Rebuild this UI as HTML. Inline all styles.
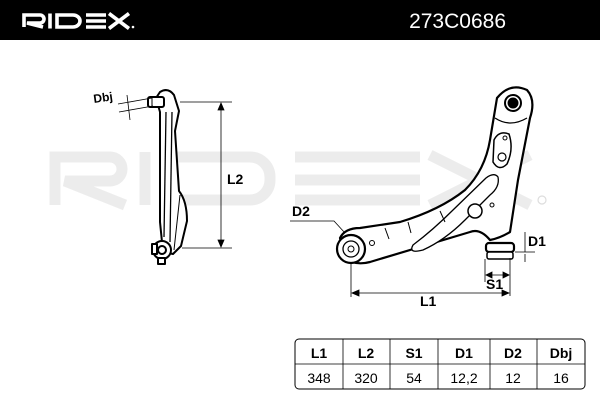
<!DOCTYPE html>
<html><head><meta charset="utf-8"><style>
body{margin:0;background:#fff;width:600px;height:400px;overflow:hidden;font-family:"Liberation Sans",sans-serif}
</style></head><body>
<svg width="600" height="400" viewBox="0 0 600 400" xmlns="http://www.w3.org/2000/svg" font-family="Liberation Sans, sans-serif">
<rect x="0" y="0" width="600" height="40" fill="#000"/>
<g fill="none" stroke="#fff" stroke-width="3.6">
<path d="M24 27V15h16a4 4 0 0 1 0 8H27l16 4"/>
<path d="M50 13.5v15"/>
<path d="M57 15h16a7 6 0 0 1 7 6v0a7 6 0 0 1-7 6H57z"/>
<path d="M106 15H86M106 21H86M106 27H86"/>
<path d="M109 13.5l20 15M129 13.5l-20 15"/>
</g>
<circle cx="133" cy="27" r="1.3" fill="#fff"/>
<text x="506" y="28" font-size="21" fill="#fff" text-anchor="end">273C0686</text>
<g fill="none" stroke="#ececec" stroke-width="11">
<path d="M55 205V157h55a12 12 0 0 1 0 24H65l60 24"/>
<path d="M145 152v53"/>
<path d="M165 157h85a20 20 0 0 1 20 20v3a20 20 0 0 1-20 20H165z"/>
<path d="M420 157H295M420 180H295M420 200H295"/>
<path d="M430 155l100 50M530 155l-100 50"/>
</g>
<circle cx="542" cy="200" r="4" fill="none" stroke="#ddd" stroke-width="1.2"/>
<g fill="#fff" stroke="#000" stroke-width="2" stroke-linejoin="round">
<path d="M160 92q8-5 14 3l5 16-4 20 4 60q8 10 8 30l-6 25-8 8-10-2 -3-30 0-110-4-14z"/>
<path d="M166 112l-2 125" fill="none" stroke-width="1.3"/>
<path d="M172 112l-2 130" fill="none" stroke-width="1.3"/>
<path d="M180 195l-6 55" fill="none" stroke-width="1"/>
<rect x="148" y="97" width="16" height="10" rx="2"/>
<path d="M152 97v10" fill="none" stroke-width="1"/>
<circle cx="162" cy="250" r="9"/>
<circle cx="162" cy="250" r="4"/>
<rect x="152" y="244" width="5" height="10"/>
<rect x="158" y="258" width="7" height="6"/>
</g>
<g stroke="#000" stroke-width="0.8" fill="none">
<path d="M180 102H232M182 248H232"/>
<path d="M221 103V247"/>
<path d="M221 103l-3 7h6zM221 247l-3-7h6z" fill="#000"/>
<path d="M118 104l34-6M119 112l34-6M127 95l3 25"/>
</g>
<text x="227" y="184" font-size="14" font-weight="bold">L2</text>
<text x="94" y="103" font-size="12" font-weight="bold" transform="rotate(-8 94 103)">Dbj</text>
<g fill="#fff" stroke="#000" stroke-width="2.2" stroke-linejoin="round">
<path d="M497 98Q510 82 527 90Q536 100 530 118L518 180L510 232Q500 238 490 240Q480 228 470 232L370 262Q355 266 345 258L340 238Q345 228 360 228L400 222Q440 210 465 190Q485 170 490 140Z"/>
<path d="M495 118q15 10 32 0" fill="none" stroke-width="1.3"/>
<circle cx="513" cy="103" r="8" stroke-width="2"/>
<circle cx="513" cy="103" r="5" fill="#000" stroke-width="1"/>
<path d="M494 140q5-10 15-6 5 15-2 30-8 8-14-2z" stroke-width="1.5"/>
<circle cx="502" cy="157" r="4" stroke-width="1.2"/>
<circle cx="505" cy="138" r="2" stroke-width="1"/>
<path d="M486 178q8-6 12-1 2 10-8 18l-25 25q-20 20-42 30q-15 4-10-5q20-15 40-35z" stroke-width="1.3"/>
<circle cx="475" cy="211" r="7" stroke-width="1.5"/>
<circle cx="492" cy="205" r="2" stroke-width="1"/>
<circle cx="372" cy="243" r="2.5" stroke-width="1"/>
<path d="M385 228l4 11M408 222l3 11M440 211l5 11" fill="none" stroke-width="1"/>
<circle cx="351" cy="249" r="14"/>
<circle cx="351" cy="249" r="8" stroke-width="1.3"/>
<circle cx="351" cy="249" r="3" stroke-width="1"/>
<rect x="486" y="243" width="28" height="9" rx="3"/>
<rect x="487" y="252" width="26" height="7" rx="2" stroke-width="1.5"/>
</g>
<g stroke="#000" stroke-width="0.8" fill="none">
<path d="M290 221h44l11 12"/>
<path d="M351 262V297M510 258V296M485 259V282"/>
<path d="M352 293H509M486 275H509"/>
<path d="M352 293l7-3v6zM509 293l-7-3v6zM486 275l6-3v6zM509 275l-6-3v6z" fill="#000"/>
<path d="M515 252H535M525 232v20M525 262v-8"/>
</g>
<text x="292" y="216" font-size="14" font-weight="bold">D2</text>
<text x="528" y="246" font-size="14" font-weight="bold">D1</text>
<text x="486" y="289" font-size="14" font-weight="bold">S1</text>
<text x="420" y="306" font-size="14" font-weight="bold">L1</text>
<rect x="295" y="339" width="290" height="50" rx="4" fill="#fff" stroke="#000" stroke-width="1"/>
<path d="M295 364H585M343 339V389M390 339V389M438 339V389M490 339V389M537 339V389" stroke="#000" stroke-width="0.8"/>
<g font-size="14" text-anchor="middle">
<g font-weight="bold"><text x="319" y="358">L1</text><text x="366" y="358">L2</text><text x="414" y="358">S1</text><text x="464" y="358">D1</text><text x="513" y="358">D2</text><text x="561" y="358">Dbj</text></g>
<text x="319" y="383">348</text><text x="366" y="383">320</text><text x="414" y="383">54</text><text x="464" y="383">12,2</text><text x="513" y="383">12</text><text x="561" y="383">16</text>
</g>
</svg>
</body></html>
